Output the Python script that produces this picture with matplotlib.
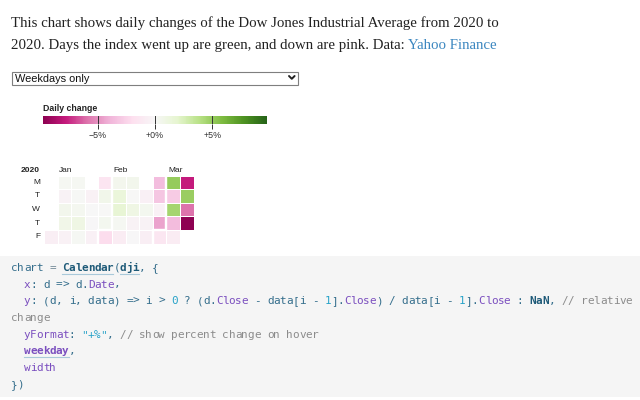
import matplotlib
matplotlib.use('Agg')
import matplotlib.pyplot as plt
import numpy as np
import pandas as pd
from matplotlib.colors import Normalize
from matplotlib.cm import ScalarMappable
from matplotlib.patches import Rectangle

# daily changes of the DJI (percent), first day has no previous close
dates = ['2020-01-02', '2020-01-03',
         '2020-01-06', '2020-01-07', '2020-01-08', '2020-01-09', '2020-01-10',
         '2020-01-13', '2020-01-14', '2020-01-15', '2020-01-16', '2020-01-17',
         '2020-01-21', '2020-01-22', '2020-01-23', '2020-01-24',
         '2020-01-27', '2020-01-28', '2020-01-29', '2020-01-30', '2020-01-31',
         '2020-02-03', '2020-02-04', '2020-02-05', '2020-02-06', '2020-02-07',
         '2020-02-10', '2020-02-11', '2020-02-12', '2020-02-13', '2020-02-14',
         '2020-02-18', '2020-02-19', '2020-02-20', '2020-02-21',
         '2020-02-24', '2020-02-25', '2020-02-26', '2020-02-27', '2020-02-28',
         '2020-03-02', '2020-03-03', '2020-03-04', '2020-03-05', '2020-03-06',
         '2020-03-09', '2020-03-10', '2020-03-11', '2020-03-12']
change_pct = [np.nan, -0.81,
              0.24, -0.42, 0.57, 0.74, -0.46,
              0.29, 0.11, 0.31, 0.92, 0.17,
              -0.52, -0.03, -0.09, -0.58,
              -1.57, 0.66, 0.04, 0.44, -2.09,
              0.51, 1.44, 1.68, 0.30, -0.94,
              0.60, -0.00, 0.94, -0.43, -0.09,
              -0.56, 0.40, -0.44, -0.78,
              -3.56, -3.15, -0.46, -4.42, -1.39,
              5.09, -2.94, 4.53, -3.58, -0.98,
              -7.79, 4.89, -5.86, -9.99]
weekday_labels = ['M', 'T', 'W', 'T', 'F']
legend_ticks = [-0.05, 0.0, 0.05]
legend_tick_labels = ['\u22125%', '+0%', '+5%']

df = pd.DataFrame({'date': pd.to_datetime(dates), 'change': np.array(change_pct) / 100})
year_start = pd.Timestamp('2020-01-01')
week0 = year_start - pd.Timedelta(days=year_start.weekday())
df['week'] = (df['date'] - week0).dt.days // 7
df['day'] = df['date'].dt.weekday
ncols = df['week'].max() + 1
grid = np.full((5, ncols), np.nan)
grid[df['day'], df['week']] = df['change']
vmax = np.nanquantile(np.abs(df['change']), 0.9975)
norm = Normalize(-vmax, vmax)
cmap = plt.get_cmap('PiYG')

W, H = 640, 400
fig = plt.figure(figsize=(6.4, 4), dpi=100)
ax0 = fig.add_axes([0, 0, 1, 1])
ax0.set_xlim(0, W)
ax0.set_ylim(H, 0)
ax0.axis('off')

# intro paragraph, sized so the first line spans the same width as the page
serif = 'Liberation Serif'
t1 = ax0.text(11, 27, 'This chart shows daily changes of the Dow Jones Industrial Average from 2020 to',
              fontsize=10, family=serif, color='#222222', va='baseline')
fig.canvas.draw()
pfs = 10 * 489 / t1.get_window_extent().width
t1.set_fontsize(pfs)
t2 = ax0.text(11, 49, '2020. Days the index went up are green, and down are pink. Data: ',
              fontsize=pfs, family=serif, color='#222222', va='baseline')
fig.canvas.draw()
x_end = t2.get_window_extent().x1
ax0.text(x_end, 49, 'Yahoo Finance', fontsize=pfs, family=serif, color='#3c87c0', va='baseline')

# select box
ax0.add_patch(Rectangle((11.5, 71.5), 286.5, 13, facecolor='white', edgecolor='#7f7f7f', lw=0.8))
ax0.text(15, 78.5, 'Weekdays only', fontsize=7.9, family='Liberation Sans', color='#111111', va='center')
ax0.plot([289, 291.8, 294.6], [76, 78.8, 76], color='#222222', lw=1.4, solid_capstyle='round')

# legend
ax0.text(43, 111, 'Daily change', fontsize=6.3, family='Liberation Sans', weight='bold',
         color='#222222', va='baseline')
cax = fig.add_axes([43.3 / W, (H - 124) / H, 223.4 / W, 8 / H])
cb = fig.colorbar(ScalarMappable(norm=norm, cmap=cmap), cax=cax, orientation='horizontal')
cb.outline.set_visible(False)
cb.set_ticks(legend_ticks)
cb.set_ticklabels(legend_tick_labels)
cax.tick_params(axis='x', length=3.5, width=0.7, color='#333333', pad=1.8,
                labelsize=6.4, labelcolor='#333333')
for lab in cax.get_xticklabels():
    lab.set_family('Liberation Sans')
for v in legend_ticks:
    cax.axvline(v, color='#333333', lw=0.7)

# calendar heatmap
cs = 17.0
hx0, hy0 = 44.0, 175.5
ax = fig.add_axes([hx0 / W, (H - (hy0 + 5 * cs * 0.8)) / H, ncols * cs * 0.8 / W, 5 * cs * 0.8 / H])
ax.pcolormesh(np.ma.masked_invalid(grid), cmap=cmap, norm=norm, edgecolors='white', linewidth=0.58)
ax.set_xlim(0, ncols)
ax.set_ylim(5, 0)
ax.axis('off')

lab_kw = dict(fontsize=6.0, family='Liberation Sans', color='#222222', clip_on=False)
ax.text(-5 / cs, -5 / cs, '2020', ha='right', va='baseline', weight='bold', **lab_kw)
for i, d in enumerate(weekday_labels):
    ax.text(-5 / cs, i + 0.5, d, ha='right', va='center', **lab_kw)

# month labels and separators
for m in pd.date_range(year_start, df['date'].max(), freq='MS'):
    w0 = (m - week0).days // 7
    week_days = pd.date_range(m, periods=7)
    wc = (week_days[week_days.weekday == 0][0] - week0).days // 7
    ax.text(wc + 2 / cs, -5 / cs, m.strftime('%b'), ha='left', va='baseline', **lab_kw)
    if m.month > 1:
        d0 = max(0, min(4, m.weekday()))
        ax.plot([w0 + 1, w0 + 1, w0, w0], [0, d0, d0, 5], color='white', lw=1.73,
                clip_on=False, solid_joinstyle='miter')

# code block
ax0.add_patch(Rectangle((0, 256), 640, 141, facecolor='#f5f5f5', edgecolor='none'))
mono = 'DejaVu Sans Mono'
cw = 6.4
fs = 7.9
NORM, OP, PUR, NUM, COM, NAME = '#356e8c', '#6f8795', '#7b4fbf', '#27a2c8', '#8c8c8c', '#1e5a78'
code = [
    [('chart', NORM, 0, 0), (' = ', OP, 0, 0), ('Calendar', NAME, 1, 1),
     ('(', NORM, 0, 0), ('dji', NAME, 1, 1), (', {', NORM, 0, 0)],
    [('  x', PUR, 0, 0), (': d => d.', NORM, 0, 0), ('Date', PUR, 0, 0), (',', NORM, 0, 0)],
    [('  y', PUR, 0, 0), (': (d, i, data) => i > ', NORM, 0, 0), ('0', NUM, 0, 0),
     (' ? (d.', NORM, 0, 0), ('Close', PUR, 0, 0), (' - data[i - ', NORM, 0, 0),
     ('1', NUM, 0, 0), ('].', NORM, 0, 0), ('Close', PUR, 0, 0),
     (') / data[i - ', NORM, 0, 0), ('1', NUM, 0, 0), ('].', NORM, 0, 0),
     ('Close', PUR, 0, 0), (' : ', NORM, 0, 0), ('NaN', NAME, 1, 0),
     (', ', NORM, 0, 0), ('// relative', COM, 0, 0)],
    [('change', COM, 0, 0)],
    [('  yFormat', PUR, 0, 0), (': ', NORM, 0, 0), ('"+%"', NUM, 0, 0),
     (', ', NORM, 0, 0), ('// show percent change on hover', COM, 0, 0)],
    [('  weekday', PUR, 1, 1), (',', NORM, 0, 0)],
    [('  width', PUR, 0, 0)],
    [('})', NORM, 0, 0)],
]
# one character per column so the monospace grid lines up exactly
y = 267
for line in code:
    n = 0
    for txt, col, bold, under in line:
        for k, ch in enumerate(txt):
            if ch != ' ':
                ax0.text(11 + (n + k) * cw, y + 3.8, ch, family=mono, fontsize=fs, color=col,
                         weight='bold' if bold else 'normal', va='baseline')
        if under:
            s = len(txt) - len(txt.lstrip())
            ax0.plot([11 + (n + s) * cw, 11 + (n + len(txt)) * cw], [y + 7, y + 7],
                     color='#a9c9da', lw=0.8)
        n += len(txt)
    y += 16.7

fig.savefig('out.png', dpi=100)
